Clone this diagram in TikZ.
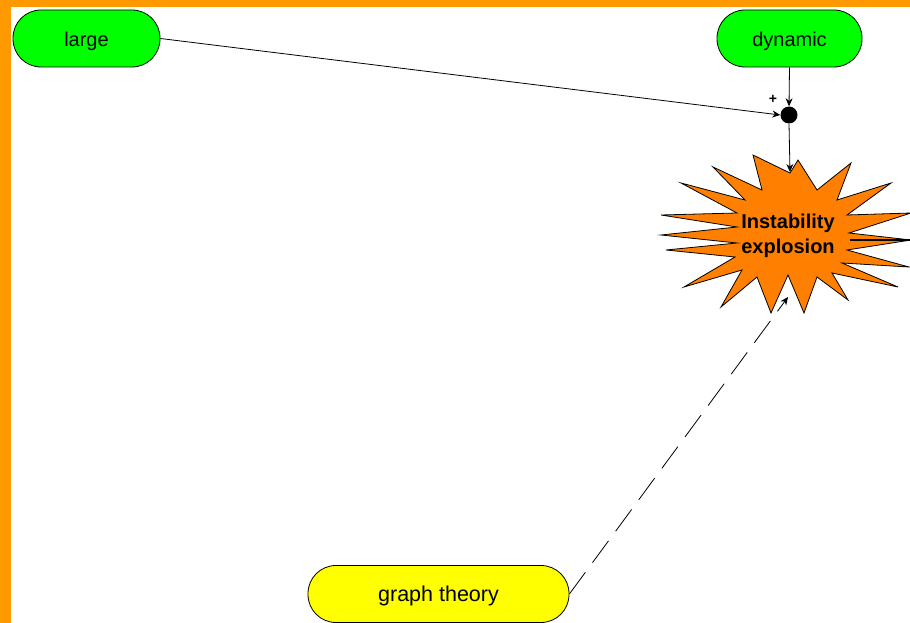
\documentclass[tikz,border=0pt]{standalone}
\usepackage{fontspec}
\setmainfont{Liberation Sans}
\usetikzlibrary{arrows.meta}
\definecolor{frameorange}{RGB}{255,153,0}
\definecolor{starorange}{RGB}{255,128,0}
\definecolor{nodegreen}{RGB}{0,255,0}
\definecolor{nodeyellow}{RGB}{255,255,0}
\tikzset{
  pill/.style={draw=black, line width=0.8pt, rounded corners=28pt, minimum height=57pt,
    inner sep=0pt, text height=20pt, text depth=4.5pt, font=\fontsize{20}{23}\selectfont},
  conn/.style={draw=black, line width=0.8pt},
  tip/.style={-{Stealth[length=8pt,width=7pt]}},
}
\begin{document}
\begin{tikzpicture}[x=1pt,y=-1pt]
\useasboundingbox (0,0) rectangle (910,623);
\fill[white] (0,0) rectangle (910,623);
% frame
\fill[frameorange] (0,0) rectangle (910,7);
\fill[frameorange] (0,0) rectangle (11,623);

% star
\begin{scope}[shift={(787,235)}]
\draw[fill=starorange, line width=0.8pt, line join=miter] plot coordinates {
 (11,-75) (30,-45) (64,-72) (50,-35) (104,-52) (60,-20) (124,-22) (62,-2)
 (124,5) (60,15) (122,32) (55,28) (111,52) (45,38) (61,65) (30,42)
 (17,78) (1,40) (-16,78) (-30,42) (-66,72) (-45,35) (-103,52) (-52,22)
 (-121,15) (-50,8) (-126,0) (-50,-8) (-126,-20) (-50,-22) (-106,-52) (-42,-35)
 (-74,-68) (-25,-45) (-34,-80) (3,-62)} -- cycle;
\end{scope}
\node[align=center, font=\fontsize{20}{25}\selectfont\bfseries, inner sep=0pt] (star) at (788,236) {Instability\\explosion};

% nodes
\node[pill, fill=nodegreen, minimum width=147pt] (large) at (86.5,38.5) {large};
\node[pill, fill=nodegreen, minimum width=145pt] (dynamic) at (789.5,38.5) {dynamic};
\node[pill, fill=nodeyellow, minimum width=261pt, font=\fontsize{21.5}{24}\selectfont] (graph) at (438.5,594) {graph theory};

% junction
\node[circle, fill=black, minimum size=17pt, inner sep=0pt] (junc) at (789,115) {};
\node[font=\fontsize{14}{14}\selectfont\bfseries, inner sep=0pt] (plus) at (773,99) {+};

% connector end points
\coordinate (startop) at (790,172);
\coordinate (starbot) at (788,297);
\coordinate (starright) at (850,240);
\coordinate (edgeright) at (910,240);

% connectors
\draw[conn, tip] (large.east) -- (junc.west);
\draw[conn, tip] (dynamic.south) -- (junc.north);
\draw[conn, tip] (junc.south) -- (startop);
\draw[conn, tip, dash pattern=on 27pt off 12pt] (graph.east) -- (starbot);
\draw[conn, line width=1.6pt] (starright) -- (edgeright);
\end{tikzpicture}
\end{document}
